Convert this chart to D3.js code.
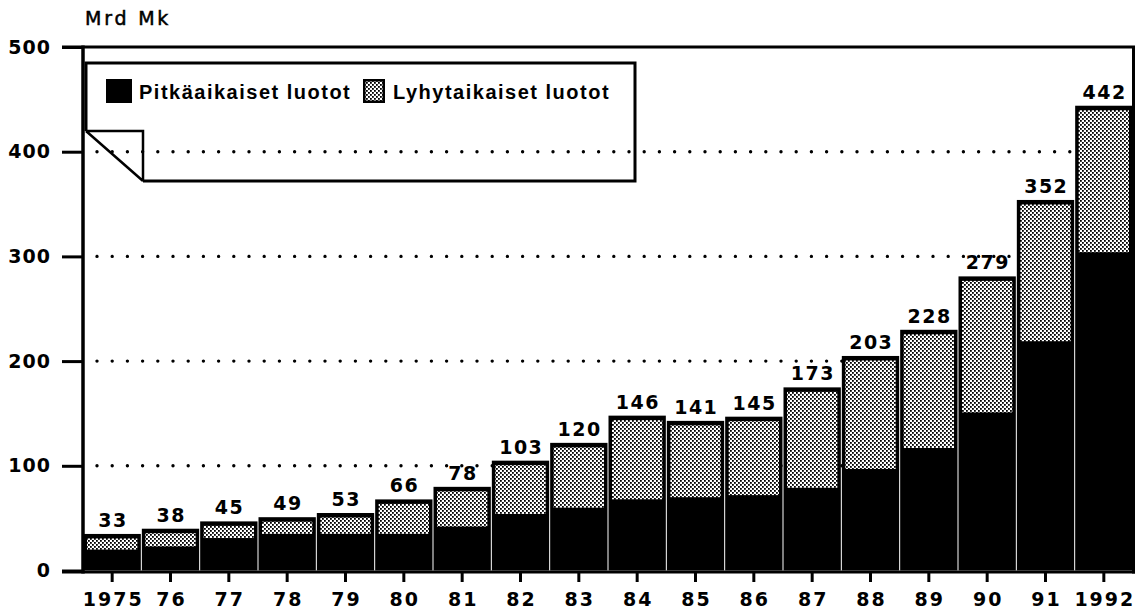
<!DOCTYPE html>
<html><head><meta charset="utf-8">
<script src="https://cdn.jsdelivr.net/npm/d3@7"></script>
<style>
html,body{margin:0;padding:0;background:#fff;}
svg{display:block;}
text{fill:#000;}
</style></head>
<body>
<svg id="chart" width="1139" height="611"></svg>
<script>
const years = ['1975','76','77','78','79','80','81','82','83','84','85','86','87','88','89','90','91','1992'];
const longTerm  = [20,23,31,35,35,35,42,54,60,68,70,72,79,97,117,151,219,304];
const shortTerm = [13,15,14,14,18,31,36,49,60,78,71,73,94,106,111,128,133,138];
const totals    = [33,38,45,49,53,66,78,103,120,146,141,145,173,203,228,279,352,442];
const yTicks = [0,100,200,300,400,500];
const gridValues = [100,200,300,400];
const seriesNames = ['Pitkäaikaiset luotot','Lyhytaikaiset luotot'];
const unitLabel = 'Mrd Mk';

const NUMFONT = '"DejaVu Sans",sans-serif';
const LEGFONT = '"Liberation Sans",Arial,sans-serif';

const svg = d3.select('#chart');
const defs = svg.append('defs');
const pat = defs.append('pattern').attr('id','stipple').attr('patternUnits','userSpaceOnUse')
  .attr('width',4).attr('height',4);
pat.append('rect').attr('width',4).attr('height',4).attr('fill','#fff');
pat.append('rect').attr('x',0).attr('y',0).attr('width',1.8).attr('height',1.8).attr('fill','#000');
pat.append('rect').attr('x',2).attr('y',2).attr('width',1.8).attr('height',1.8).attr('fill','#000');

const x = d3.scaleBand().domain(years).range([83,1133]).padding(0);
const y = d3.scaleLinear().domain([0,500]).range([570.5,47]);
const base = y(0);

// gridlines
svg.append('g').selectAll('line').data(gridValues).join('line')
  .attr('x1',97).attr('x2',1128).attr('y1',d=>y(d)).attr('y2',d=>y(d))
  .attr('stroke','#000').attr('stroke-width',3.4).attr('stroke-linecap','round')
  .attr('stroke-dasharray','0,15.2');

// bars
const data = years.map((yr,i)=>({yr, l:longTerm[i], s:shortTerm[i], t:totals[i]}));
const bw = x.bandwidth();
const bars = svg.append('g');
bars.selectAll('rect.blk').data(data).join('rect').attr('class','blk')
  .attr('x',d=>x(d.yr)+0.5).attr('width',bw-1)
  .attr('y',d=>y(d.l+d.s)-2).attr('height',d=>base-(y(d.l+d.s)-2))
  .attr('fill','#000');
bars.selectAll('rect.stp').data(data).join('rect').attr('class','stp')
  .attr('x',d=>x(d.yr)+4).attr('width',bw-8)
  .attr('y',d=>y(d.l+d.s)+2.5).attr('height',d=>y(d.l)-(y(d.l+d.s)+2.5))
  .attr('fill','url(#stipple)');

// value labels
svg.append('g').selectAll('text').data(data).join('text')
  .attr('x',d=>x(d.yr)+bw/2+0.75).attr('y',d=>y(d.t)-9)
  .attr('text-anchor','middle')
  .style('font-family',NUMFONT).style('font-size','19px').style('font-weight','bold')
  .style('letter-spacing','1.5px').text(d=>d.t);

// y axis
const yAxis = d3.axisLeft(y).tickValues(yTicks).tickSize(21).tickPadding(12).tickFormat(d3.format('d'));
const gy = svg.append('g').attr('transform','translate(83,0)').call(yAxis);
gy.select('.domain').remove();
gy.selectAll('.tick line').attr('stroke','#000').attr('stroke-width',3);
gy.selectAll('.tick text').attr('dx',1).attr('fill','#000')
  .style('font-family',NUMFONT).style('font-size','19px').style('font-weight','bold')
  .style('letter-spacing','1px');
svg.append('line').attr('x1',83).attr('x2',83).attr('y1',y(500)-1.5).attr('y2',base+3)
  .attr('stroke','#000').attr('stroke-width',3.5);

// x axis
const xAxis = d3.axisBottom(x).tickSize(10).tickPadding(11);
const gx = svg.append('g').attr('transform',`translate(0,${base+1.5})`).call(xAxis);
gx.select('.domain').remove();
gx.selectAll('.tick line').attr('stroke','#000').attr('stroke-width',3);
gx.selectAll('.tick text').attr('dx',1).attr('fill','#000')
  .style('font-family',NUMFONT).style('font-size','19px').style('font-weight','bold')
  .style('letter-spacing','2px');
svg.append('line').attr('x1',62).attr('x2',1135).attr('y1',base+1.5).attr('y2',base+1.5)
  .attr('stroke','#000').attr('stroke-width',3);

// frame top and right
svg.append('line').attr('x1',62).attr('x2',1135).attr('y1',y(500)).attr('y2',y(500))
  .attr('stroke','#000').attr('stroke-width',3);
svg.append('line').attr('x1',1133.5).attr('x2',1133.5).attr('y1',y(500)).attr('y2',base+3)
  .attr('stroke','#000').attr('stroke-width',3);

// unit label
svg.append('text').attr('x',85).attr('y',25)
  .style('font-family',NUMFONT).style('font-size','19px').style('letter-spacing','2.8px')
  .attr('stroke','#000').attr('stroke-width',0.5)
  .text(unitLabel);

// legend
const lg = svg.append('g');
lg.append('path').attr('d','M86,131 L86,63 L635,63 L635,181 L143,181')
  .attr('fill','none').attr('stroke','#000').attr('stroke-width',3);
lg.append('path').attr('d','M86,131 L143,131 L143,181 M86,131 L143,181')
  .attr('fill','none').attr('stroke','#000').attr('stroke-width',2.5);
lg.append('rect').attr('x',106).attr('y',79).attr('width',26).attr('height',24).attr('fill','#000');
lg.append('text').attr('x',139).attr('y',99)
  .style('font-family',LEGFONT).style('font-size','20px').style('font-weight','bold')
  .style('letter-spacing','1.5px').text(seriesNames[0]);
lg.append('rect').attr('x',363).attr('y',79).attr('width',22).attr('height',24).attr('fill','#000');
lg.append('rect').attr('x',365.5).attr('y',81.5).attr('width',17).attr('height',19).attr('fill','url(#stipple)');
lg.append('text').attr('x',393).attr('y',99)
  .style('font-family',LEGFONT).style('font-size','20px').style('font-weight','bold')
  .style('letter-spacing','1.5px').text(seriesNames[1]);
</script>
</body></html>
